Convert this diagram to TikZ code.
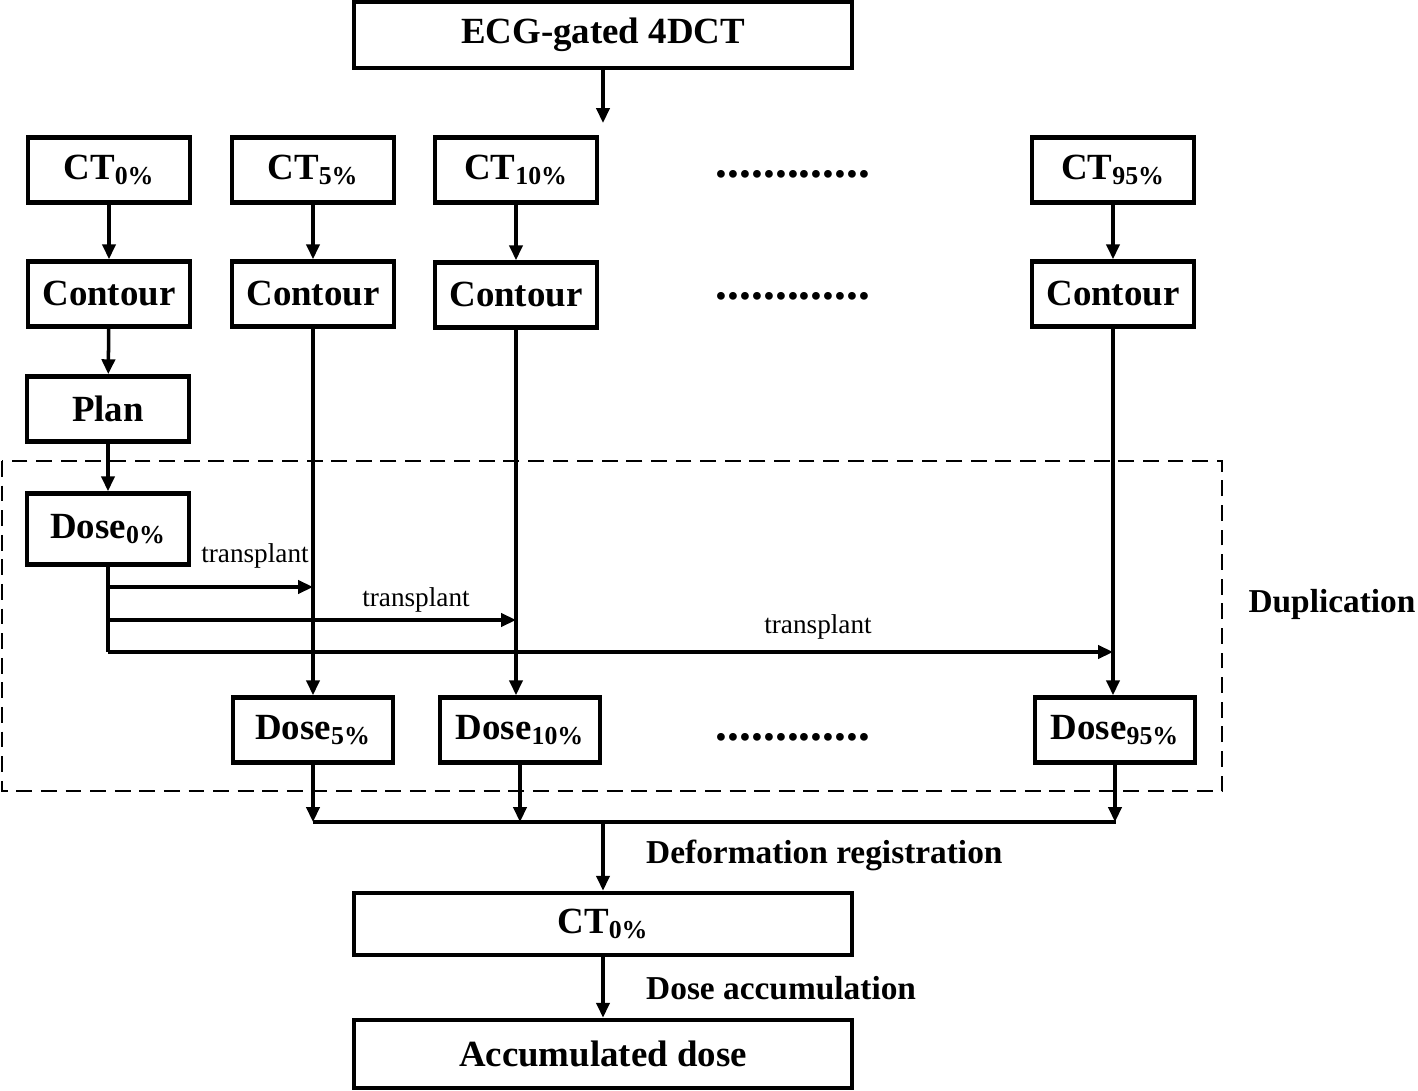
\documentclass[tikz,border=0pt]{standalone}
\usepackage{fontspec}
\setmainfont{Liberation Serif}
\usetikzlibrary{arrows.meta}
\tikzset{
  box/.style={draw, line width=2.6pt, inner sep=0pt, minimum width=3.24cm, minimum height=1.3cm,
    font=\bfseries\fontsize{21}{24}\selectfont},
  widebox/.style={box, minimum width=9.96cm},
  flow/.style={line width=2pt, -{Triangle[length=8.5pt,width=7.5pt]}},
  link/.style={line width=2pt},
  lbl/.style={font=\bfseries\fontsize{19}{22}\selectfont},
  small/.style={font=\fontsize{15.5}{18}\selectfont},
  dots/.style={font=\bfseries\fontsize{27}{30}\selectfont},
}
\begin{document}
\begin{tikzpicture}[x=0.02cm,y=-0.02cm]
\useasboundingbox (0,0) rectangle (1418,1091);

\node [widebox, minimum height=1.32cm] (ecg) at (603,35) {ECG-gated 4DCT};
\coordinate (ecgend) at (603,123);

\node [box] (ct0) at (109,170) {CT\textsubscript{0\%}};
\node [box] (ct5) at (313,170) {CT\textsubscript{5\%}};
\node [box] (ct10) at (516,170) {CT\textsubscript{10\%}};
\node [box] (ct95) at (1113,170) {CT\textsubscript{95\%}};
\node [dots] (dotsa) at (793,174) {.............};

\node [box] (cn0) at (109,294) {Contour};
\node [box] (cn5) at (313,294) {Contour};
\node [box] (cn10) at (516,295) {Contour};
\node [box] (cn95) at (1113,294) {Contour};
\node [dots] (dotsb) at (793,296) {.............};

\node [box] (plan) at (108,409) {Plan};
\node [box, minimum height=1.42cm] (dose0) at (108,529) {Dose\textsubscript{0\%}};

\node [box, minimum width=3.2cm] (dose5) at (313,730) {Dose\textsubscript{5\%}};
\node [box, minimum width=3.2cm] (dose10) at (520,730) {Dose\textsubscript{10\%}};
\node [box, minimum width=3.2cm] (dose95) at (1115,730) {Dose\textsubscript{95\%}};
\node [dots] (dotsc) at (793,737) {.............};

\draw [dashed, line width=0.9pt, dash pattern=on 9pt off 5pt] (2,461) rectangle (1222,791);
\node [lbl] (dup) at (1332,604) {Duplication};

\node [widebox, minimum height=1.24cm] (ctf) at (603,924) {CT\textsubscript{0\%}};
\node [widebox, minimum height=1.36cm] (acc) at (603,1054) {Accumulated dose};

\draw [flow] (ecg.south) -- (ecgend);

\draw [flow] (ct0) -- (cn0);
\draw [flow] (ct5) -- (cn5);
\draw [flow] (ct10) -- (cn10);
\draw [flow] (ct95) -- (cn95);
\draw [flow] (cn0) -- (plan);
\draw [flow] (plan) -- (dose0);

\draw [flow] (cn5.south) -- (dose5.north -| cn5.south);
\draw [flow] (cn10.south) -- (dose10.north -| cn10.south);
\draw [flow] (cn95.south) -- (dose95.north -| cn95.south);

% transplant of the 0% dose
\draw [link] (dose0.south) -- (dose0.south |- 0,652);
\draw [flow] (dose0.south |- 0,587) -- (cn5.south |- 0,587);
\draw [flow] (dose0.south |- 0,620) -- (cn10.south |- 0,620);
\draw [flow] (dose0.south |- 0,652) -- (cn95.south |- 0,652);
\node [small] (tra) at (255,556) {transplant};
\node [small] (trb) at (416,600) {transplant};
\node [small] (trc) at (818,627) {transplant};

% registration
\coordinate (busa) at (313,822);
\coordinate (busb) at (1116,822);
\draw [flow] (dose5.south) -- (dose5.south |- busa);
\draw [flow] (dose10.south) -- (dose10.south |- busa);
\draw [flow] (dose95.south) -- (dose95.south |- busa);
\draw [link] (busa) -- (busb);
\draw [flow] (ctf.north |- busa) -- (ctf.north);
\node [lbl, anchor=west] (reg) at (640,855) {Deformation registration};

\draw [flow] (ctf) -- (acc);
\node [lbl, anchor=west] (accu) at (640,988) {Dose accumulation};
\end{tikzpicture}
\end{document}
